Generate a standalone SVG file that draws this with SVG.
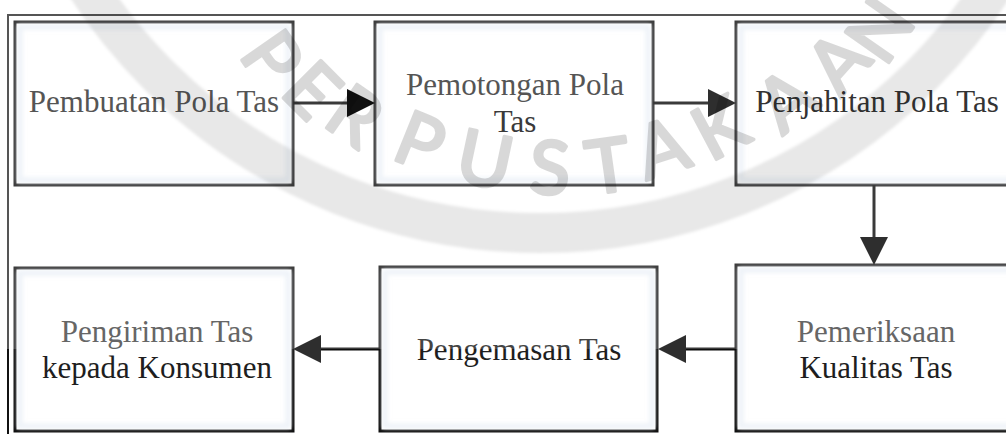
<svg xmlns="http://www.w3.org/2000/svg" width="1006" height="434" viewBox="0 0 1006 434">
  <defs>
    <!-- ink darkens below y=349 (lower half of the page scan is higher contrast) -->
    <linearGradient id="ink" gradientUnits="userSpaceOnUse" x1="0" y1="0" x2="0" y2="434">
      <stop offset="0" stop-color="#3a3a3a"/>
      <stop offset="0.804" stop-color="#3a3a3a"/>
      <stop offset="0.804" stop-color="#0d0d0d"/>
      <stop offset="1" stop-color="#0d0d0d"/>
    </linearGradient>
    <linearGradient id="frameInk" gradientUnits="userSpaceOnUse" x1="0" y1="0" x2="0" y2="434">
      <stop offset="0" stop-color="#555"/>
      <stop offset="0.804" stop-color="#555"/>
      <stop offset="0.804" stop-color="#111"/>
      <stop offset="1" stop-color="#111"/>
    </linearGradient>
    <linearGradient id="textInk" gradientUnits="userSpaceOnUse" x1="0" y1="0" x2="0" y2="434">
      <stop offset="0" stop-color="#444"/>
      <stop offset="0.804" stop-color="#444"/>
      <stop offset="0.804" stop-color="#1e1e1e"/>
      <stop offset="1" stop-color="#1e1e1e"/>
    </linearGradient>
    <filter id="soft" x="-10%" y="-10%" width="120%" height="120%">
      <feGaussianBlur stdDeviation="2"/>
    </filter>
    <filter id="softRing" x="-10%" y="-10%" width="120%" height="120%">
      <feGaussianBlur stdDeviation="1.5"/>
    </filter>
    <marker id="headDark" viewBox="0 0 28 28" refX="13" refY="14" markerWidth="28" markerHeight="28" markerUnits="userSpaceOnUse" orient="auto">
      <path d="M0,0 L28,14 L0,28 Z" fill="#111"/>
    </marker>
    <marker id="headMid" viewBox="0 0 28 28" refX="13" refY="14" markerWidth="28" markerHeight="28" markerUnits="userSpaceOnUse" orient="auto">
      <path d="M0,0 L28,14 L0,28 Z" fill="#2e2e2e"/>
    </marker>
    <style>
      .box { fill: #ffffff; stroke: url(#ink); stroke-width: 3; }
      .glow { fill: none; stroke: #edf2f8; stroke-width: 5; filter: url(#soft); }
      .lbl { font-family: "Liberation Serif", "Times New Roman", serif; font-size: 31px; text-anchor: middle; }
      .wire { fill: none; stroke: url(#ink); stroke-width: 3; }
      .wm { font-family: Lato, "Open Sans", sans-serif; font-size: 74px; fill: #000; stroke: #000; stroke-width: 3.5; stroke-linejoin: round; text-anchor: middle; }
    </style>
  </defs>

  <rect width="1006" height="434" fill="#ffffff"/>

  <!-- outer frame (left and top edges) -->
  <path d="M8,434 V15 H1006" fill="none" stroke="url(#frameInk)" stroke-width="2"/>

  <g id="node-pembuatan">
    <rect class="box" x="15" y="22" width="278" height="163"/>
    <rect class="glow" x="20" y="27" width="268" height="153"/>
    <text class="lbl" x="154" y="112" fill="#555">Pembuatan Pola Tas</text>
  </g>

  <g id="node-pemotongan">
    <rect class="box" x="375" y="22" width="278" height="163"/>
    <rect class="glow" x="380" y="27" width="268" height="153"/>
    <text class="lbl" x="515" y="95" fill="#555">Pemotongan Pola</text>
    <text class="lbl" x="515" y="132" fill="#3a3a3a">Tas</text>
  </g>

  <g id="node-penjahitan">
    <rect class="box" x="736" y="22" width="300" height="163"/>
    <rect class="glow" x="741" y="27" width="290" height="153"/>
    <text class="lbl" x="877" y="112" fill="#333">Penjahitan Pola Tas</text>
  </g>

  <g id="node-pemeriksaan">
    <rect class="box" x="736" y="265" width="300" height="166"/>
    <rect class="glow" x="741" y="270" width="290" height="156"/>
    <text class="lbl" x="876" y="342" fill="#666">Pemeriksaan</text>
    <text class="lbl" x="876" y="378" fill="#1e1e1e">Kualitas Tas</text>
  </g>

  <g id="node-pengemasan">
    <rect class="box" x="380" y="267" width="277" height="164"/>
    <rect class="glow" x="385" y="272" width="267" height="154"/>
    <text class="lbl" x="519" y="360" fill="url(#textInk)">Pengemasan Tas</text>
  </g>

  <g id="node-pengiriman">
    <rect class="box" x="15" y="268" width="278" height="163"/>
    <rect class="glow" x="20" y="273" width="268" height="153"/>
    <text class="lbl" x="157" y="342" fill="#666">Pengiriman Tas</text>
    <text class="lbl" x="157" y="378" fill="#1e1e1e">kepada Konsumen</text>
  </g>

  <g id="connectors">
    <line class="wire" x1="293" y1="103" x2="360" y2="103" marker-end="url(#headDark)"/>
    <line class="wire" x1="653" y1="103" x2="721" y2="103" marker-end="url(#headMid)"/>
    <line class="wire" x1="874" y1="185" x2="874" y2="250" marker-end="url(#headMid)"/>
    <line class="wire" x1="736" y1="349" x2="673" y2="349" marker-end="url(#headMid)"/>
    <line class="wire" x1="380" y1="349" x2="308" y2="349" marker-end="url(#headMid)"/>
  </g>

  <!-- library stamp overlay: ring and lettering -->
  <g id="stamp">
    <circle cx="540" cy="-307" r="540" fill="none" stroke="#000" stroke-opacity="0.09" stroke-width="40" filter="url(#softRing)"/>
    <g opacity="0.15">
      <text class="wm" transform="translate(272,58) rotate(55)" dy="26">P</text>
      <text class="wm" transform="translate(312,90) rotate(45)" dy="26">E</text>
      <text class="wm" transform="translate(355,116) rotate(35)" dy="26">R</text>
      <text class="wm" transform="translate(420,142) rotate(22)" dy="26">P</text>
      <text class="wm" transform="translate(485,160) rotate(12)" dy="26">U</text>
      <text class="wm" transform="translate(550,168) rotate(2)" dy="26">S</text>
      <text class="wm" transform="translate(608,166) rotate(-8)" dy="26">T</text>
      <text class="wm" transform="translate(662,148) rotate(-18)" dy="26">A</text>
      <text class="wm" transform="translate(720,128) rotate(-28)" dy="26">K</text>
      <text class="wm" transform="translate(786,100) rotate(-38)" dy="26">A</text>
      <text class="wm" transform="translate(838,62) rotate(-48)" dy="26">A</text>
      <text class="wm" transform="translate(880,30) rotate(-55)" dy="26">N</text>
    </g>
  </g>
</svg>
